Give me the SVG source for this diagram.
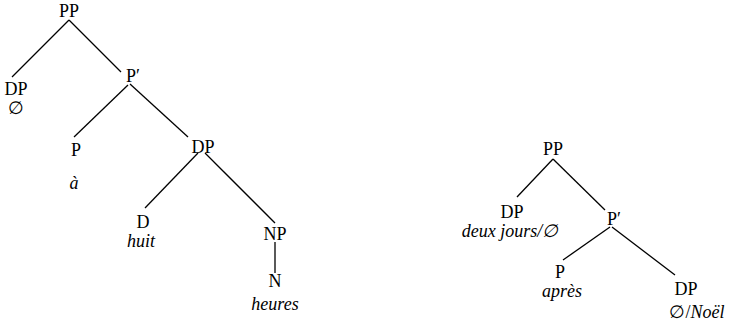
<svg xmlns="http://www.w3.org/2000/svg" width="730" height="322" viewBox="0 0 730 322">
<defs>
<style>
.i{font-style:italic}
</style>
</defs>
<rect width="730" height="322" fill="#fff"/>
<g id="connectors" stroke="#000" stroke-width="1.3">
<line x1="69" y1="20" x2="12" y2="77"/>
<line x1="69" y1="20" x2="121" y2="72"/>
<line x1="128" y1="85" x2="74" y2="137"/>
<line x1="130" y1="84" x2="188" y2="137"/>
<line x1="198" y1="153" x2="145" y2="208"/>
<line x1="205" y1="153" x2="275" y2="223"/>
<line x1="275" y1="242" x2="275" y2="273"/>
<line x1="553" y1="159" x2="517" y2="197"/>
<line x1="553" y1="159" x2="605" y2="210"/>
<line x1="610" y1="227" x2="563" y2="260"/>
<line x1="612" y1="227" x2="675" y2="275"/>
</g>
<text x="69" y="17" font-family="Liberation Serif, serif" font-size="18" text-anchor="middle" id="pp1">PP</text>
<g id="dp1" font-family="Liberation Serif, serif" font-size="18" text-anchor="middle"><text x="16" y="95">DP</text><text x="16" y="114">∅</text></g>
<g id="pbar1" font-family="Liberation Serif, serif" font-size="18" text-anchor="middle"><text x="133" y="82">P′</text></g>
<g id="p1" font-family="Liberation Serif, serif" font-size="18" text-anchor="middle"><text x="76" y="156">P</text><text class="i" x="74" y="189">à</text></g>
<g id="dp2" font-family="Liberation Serif, serif" font-size="18" text-anchor="middle"><text x="203" y="153">DP</text></g>
<g id="d1" font-family="Liberation Serif, serif" font-size="18" text-anchor="middle"><text x="143" y="228">D</text><text class="i" x="141" y="247">huit</text></g>
<g id="np1" font-family="Liberation Serif, serif" font-size="18" text-anchor="middle"><text x="275" y="240">NP</text></g>
<g id="n1" font-family="Liberation Serif, serif" font-size="18" text-anchor="middle"><text x="275" y="287">N</text><text class="i" x="275" y="310">heures</text></g>
<g id="pp2" font-family="Liberation Serif, serif" font-size="18" text-anchor="middle"><text x="553" y="155">PP</text></g>
<g id="dp3" font-family="Liberation Serif, serif" font-size="18" text-anchor="middle"><text x="512" y="218">DP</text><text class="i" x="510" y="237">deux jours/∅</text></g>
<g id="pbar2" font-family="Liberation Serif, serif" font-size="18" text-anchor="middle"><text x="614" y="225">P′</text></g>
<g id="p2" font-family="Liberation Serif, serif" font-size="18" text-anchor="middle"><text x="560" y="278">P</text><text class="i" x="562" y="297">après</text></g>
<g id="dp4" font-family="Liberation Serif, serif" font-size="18" text-anchor="middle"><text x="686" y="295">DP</text><text x="697" y="318">∅/<tspan class="i">Noël</tspan></text></g>
</svg>
